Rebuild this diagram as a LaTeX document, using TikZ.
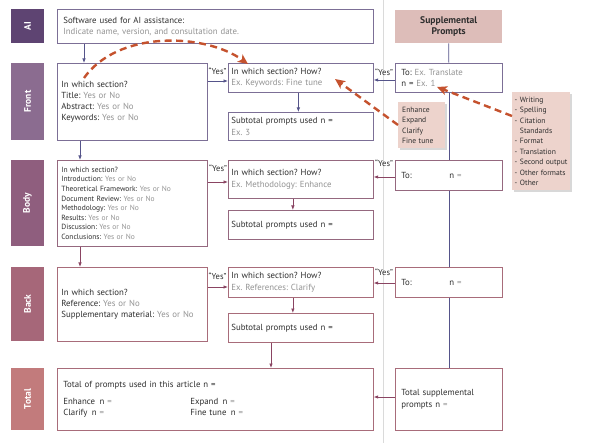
\documentclass[tikz,border=0pt]{standalone}
\usepackage{fontspec}
\setmainfont{PT Sans}
\usetikzlibrary{arrows.meta,shadows}
\definecolor{txt}{HTML}{2E2E2E}
\definecolor{gry}{HTML}{939393}
\definecolor{aiC}{HTML}{5E4472}
\definecolor{frontC}{HTML}{8B6C90}
\definecolor{bodyC}{HTML}{8F5E7E}
\definecolor{backC}{HTML}{A66779}
\definecolor{totalC}{HTML}{C27B7C}
\definecolor{suppC}{HTML}{DDBDB9}
\definecolor{noteC}{HTML}{EDD3CC}
\definecolor{redC}{HTML}{C5522E}
\definecolor{lineA}{HTML}{55548A}
\definecolor{lineB}{HTML}{8A4462}
\definecolor{boxA}{HTML}{7C6F96}
\definecolor{boxB}{HTML}{95687F}
\definecolor{boxC}{HTML}{A86C7A}
\definecolor{sepC}{HTML}{DADADA}
\frenchspacing
\newcommand\gr[1]{\textcolor{gry}{#1}}
\newcommand\fnA{\fontsize{8.8}{11.2}\selectfont\frenchspacing}
\newcommand\fnB{\fontsize{7.5}{9.6}\selectfont\frenchspacing}
\newcommand\fnC{\fontsize{7.6}{10.4}\selectfont\frenchspacing}
\tikzset{
  bx/.style={draw=#1, line width=0.7pt, fill=white, inner xsep=4pt, inner ysep=1pt,
    anchor=north west, align=left, text=txt, font=\fnA},
  bar/.style={fill=#1, rotate=90, text=white, font=\fontsize{9.5}{11}\selectfont\bfseries, inner sep=0pt},
  note/.style={fill=noteC, anchor=north west, align=left, text=txt, inner xsep=4pt,
    drop shadow={shadow xshift=2pt, shadow yshift=-2pt, opacity=0.3}},
  arrA/.style={draw=lineA, line width=0.7pt, -{Latex[length=4.5pt,width=3.5pt]}},
  arrB/.style={draw=lineB, line width=0.7pt, -{Latex[length=4.5pt,width=3.5pt]}},
  redarr/.style={draw=redC, line width=2.4pt, dash pattern=on 7pt off 4.5pt,
    -{Stealth[length=10pt,width=9pt,inset=2.5pt]}},
  yeslbl/.style={font=\fontsize{8.5}{9}\selectfont, text=txt, inner sep=0pt},
}
\begin{document}
\begin{tikzpicture}[x=1pt,y=-1pt]
\useasboundingbox (0,0) rectangle (604,443);
\fill[white] (0,0) rectangle (604,443);
% separator
\draw[sepC, line width=0.6pt] (383,0) -- (383,443);

% side bars
\node[bar=aiC, minimum width=34pt, minimum height=33pt] (barAI) at (27.5,26.5) {AI};
\node[bar=frontC, minimum width=77pt, minimum height=33pt] (barF) at (27.5,101.5) {Front};
\node[bar=bodyC, minimum width=86pt, minimum height=33pt] (barBo) at (27.5,203) {Body};
\node[bar=backC, minimum width=74pt, minimum height=33pt] (barBa) at (27.5,304) {Back};
\node[bar=totalC, minimum width=62pt, minimum height=33pt] (barT) at (27.5,399) {Total};

% supplemental header
\node[fill=suppC, minimum width=107pt, minimum height=33pt, anchor=north west, align=center,
  font=\fontsize{9.6}{11.5}\selectfont\bfseries, text=txt, inner sep=0pt] (supp) at (395,10) {Supplemental\\Prompts};

% boxes
\node[bx=boxA, minimum height=34pt, text width=304pt, inner xsep=6pt] (ai) at (57,9)
  {Software used for AI assistance:\\ \gr{Indicate name, version, and consultation date.}};
\node[bx=boxA, minimum height=77pt, text width=142pt] (frontL) at (57,63)
  {In which section?\\ Title: \gr{Yes or No}\\ Abstract: \gr{Yes or No}\\ Keywords: \gr{Yes or No}};
\node[bx=boxA, minimum height=29pt, text width=139pt, inner xsep=3pt] (frontH) at (228,63)
  {In which section? How?\\ \gr{Ex. Keywords: Fine tune}};
\node[bx=boxA, minimum height=28pt, text width=139pt, inner xsep=3pt] (frontS) at (228,112)
  {Subtotal prompts used n =\\ \gr{Ex. 3}};
\node[bx=boxA, minimum height=29pt, text width=95pt, inner xsep=6pt] (frontT) at (395,63)
  {To: \gr{Ex. Translate}\\ n = \gr{Ex. 1}};

\node[bx=boxB, minimum height=86pt, text width=142pt, font=\fnB] (bodyL) at (57,160)
  {In which section?\\ Introduction: \gr{Yes or No}\\ Theoretical Framework: \gr{Yes or No}\\
   Document Review: \gr{Yes or No}\\ Methodology: \gr{Yes or No}\\ Results: \gr{Yes or No}\\
   Discussion: \gr{Yes or No}\\ Conclusions: \gr{Yes or No}};
\node[bx=boxB, minimum height=38pt, text width=139pt, inner xsep=3pt] (bodyH) at (228,160)
  {In which section? How?\\ \gr{Ex. Methodology: Enhance}};
\node[bx=boxB, minimum height=29pt, text width=139pt, inner xsep=3pt] (bodyS) at (228,210)
  {Subtotal prompts used n =};
\node[bx=boxB, minimum height=30pt, text width=95pt, inner xsep=6pt] (bodyT) at (395,160)
  {\makebox[48pt][l]{To:}n \gr{=}};

\node[bx=boxC, minimum height=74pt, text width=142pt] (backL) at (57,267)
  {In which section?\\ Reference: \gr{Yes or No}\\ Supplementary material: \gr{Yes or No}};
\node[bx=boxC, minimum height=30pt, text width=139pt, inner xsep=3pt] (backH) at (228,267)
  {In which section? How?\\ \gr{Ex. References: Clarify}};
\node[bx=boxC, minimum height=29pt, text width=139pt, inner xsep=3pt] (backS) at (228,313)
  {Subtotal prompts used n =};
\node[bx=boxC, minimum height=30pt, text width=95pt, inner xsep=6pt] (backT) at (395,267)
  {\makebox[48pt][l]{To:}n \gr{=}};

\node[bx=boxC, minimum height=62pt, text width=304pt, inner xsep=6pt] (total) at (57,368)
  {Total of prompts used in this article n =\\[6pt]
   \makebox[127pt][l]{Enhance\enspace n \gr{=}}Expand\enspace n \gr{=}\\
   \makebox[127pt][l]{Clarify\enspace n \gr{=}}Fine tune\enspace n \gr{=}};
\node[bx=boxC, minimum height=62pt, text width=95pt, inner xsep=6pt] (totS) at (395,368)
  {Total supplemental\\ prompts n \gr{=}};

% notes
\node[note, minimum height=46pt, text width=39pt, font=\fnC] (enh) at (398,102)
  {Enhance\\Expand\\Clarify\\Fine tune};
\node[note, minimum height=98pt, text width=53pt, font=\fnC, inner xsep=2.5pt] (lst) at (512,92)
  {- Writing\\- Spelling\\- Citation\\\phantom{- }Standards\\- Format\\- Translation\\- Second output\\- Other formats\\- Other};

% supplemental line
\draw[lineA, line width=0.7pt] (supp.south) -- (frontT.north);
\draw[lineA, line width=0.7pt] (frontT.south) -- (bodyT.north);
\draw[lineA, line width=0.7pt] (bodyT.south) -- (backT.north);
\draw[lineA, line width=0.7pt] (backT.south) -- (totS.north);

% flow arrows
\coordinate (yF) at (0,81);
\coordinate (yFr) at (0,80);
\coordinate (yB) at (0,182);
\coordinate (yBr) at (0,177);
\coordinate (yK) at (0,287);
\coordinate (yKr) at (0,283);
\coordinate (yT) at (0,397);

\draw[arrA] ([xshift=27pt]frontL.north west |- ai.south) -- ([xshift=27pt]frontL.north west);
\draw[arrA] ([xshift=23pt]frontL.south west) -- ([xshift=23pt]bodyL.north west);
\draw[arrB] ([xshift=23pt]bodyL.south west) -- ([xshift=23pt]backL.north west);

\draw[arrA] (frontL.east |- yF) -- (frontH.west |- yF);
\draw[arrA] ([xshift=-2.5pt]frontH.south) -- ([xshift=-2.5pt]frontS.north);
\draw[arrA] (frontT.west |- yFr) -- (frontH.east |- yFr);

\draw[arrB] (bodyL.east |- yB) -- (bodyH.west |- yB);
\draw[arrB] ([xshift=-8pt]bodyH.south) -- ([xshift=-8pt]bodyS.north);
\draw[arrB] (bodyT.west |- yBr) -- (bodyH.east |- yBr);

\draw[arrB] (backL.east |- yK) -- (backH.west |- yK);
\draw[arrB] ([xshift=-8pt]backH.south) -- ([xshift=-8pt]backS.north);
\draw[arrB] (backT.west |- yKr) -- (backH.east |- yKr);
\draw[arrB] ([xshift=43pt]backS.south west) -- ([xshift=43pt]backS.south west |- total.north);
\draw[arrB] (totS.west |- yT) -- (total.east |- yT);

% yes labels
\node[yeslbl] (y1) at (217.5,71) {“Yes”};
\node[yeslbl] (y2) at (384,72) {“Yes”};
\node[yeslbl] (y3) at (218,168) {“Yes”};
\node[yeslbl] (y4) at (384,163) {“Yes”};
\node[yeslbl] (y5) at (217.5,276) {“Yes”};
\node[yeslbl] (y6) at (384,272) {“Yes”};

% red dashed arrows
\coordinate (c1s) at (84,78);
\coordinate (c1e) at (248,64);
\coordinate (c2e) at (335,79);
\coordinate (c3e) at (437,87);
\draw[redarr] (c1s) .. controls (118,30) and (205,33) .. (c1e);
\draw[redarr] ([yshift=-23pt]enh.north west) -- (c2e);
\draw[redarr] ([yshift=-24pt]lst.north west) -- (c3e);
\end{tikzpicture}
\end{document}
